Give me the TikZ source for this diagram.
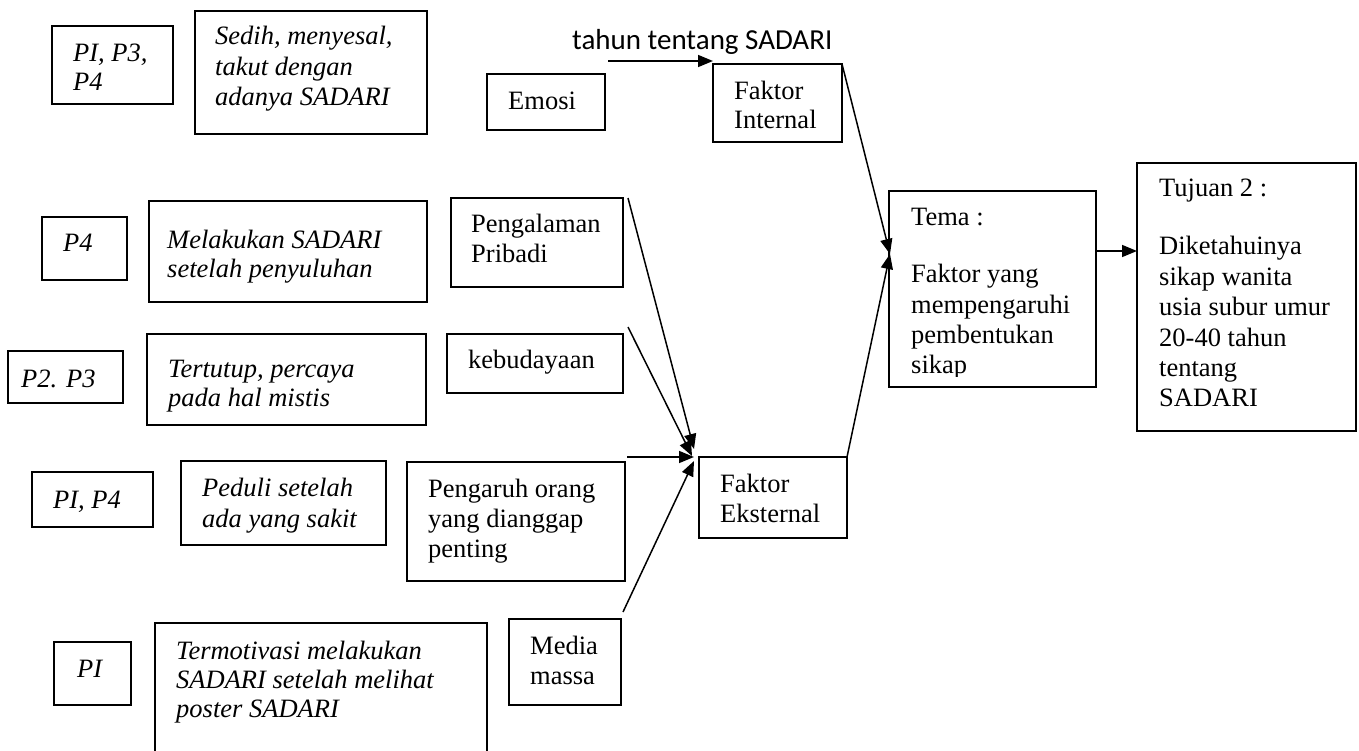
\documentclass[tikz,border=0pt]{standalone}
\usepackage{fontspec}
\setmainfont{Liberation Serif}
\newfontfamily\calibrifont{Carlito}
\usetikzlibrary{arrows.meta,fit}
% left-aligned block whose baseline is the first line's baseline
\newcommand\stk[1]{\begin{tabular}[t]{@{}l@{}}#1\end{tabular}}

\begin{document}
\begin{tikzpicture}[x=1pt,y=-1pt,
  box/.style={draw, line width=1.8pt, inner sep=0pt, outer sep=0pt},
  txt/.style={inner sep=0pt, anchor=base west, font=\fontsize{26.5}{30}\selectfont},
  itx/.style={txt, font=\fontsize{26.5}{30}\selectfont\itshape},
  link/.style={line width=1.5pt, -{Triangle[length=15pt,width=12pt]}}
]
\useasboundingbox (0,0) rectangle (1359,751);

% ---- boxes ----
\node[box, fit={(52,26)(173,104)}] (p134) {};
\node[box, fit={(195,11)(427,134)}] (sedih) {};
\node[box, fit={(487,74)(605,130)}] (emosi) {};
\node[box, fit={(713,64)(842,142)}] (fint) {};
\node[box, fit={(889,191)(1096,387)}] (tema) {};
\node[box, fit={(1137,163)(1356,431)}] (tujuan) {};
\node[box, fit={(42,217)(127,280)}] (p4) {};
\node[box, fit={(149,201)(427,302)}] (melakukan) {};
\node[box, fit={(451,198)(623,287)}] (pengalaman) {};
\node[box, fit={(8,351)(123,403)}] (p23) {};
\node[box, fit={(147,334)(426,425)}] (tertutup) {};
\node[box, fit={(447,334)(623,393)}] (budaya) {};
\node[box, fit={(32,472)(153,527)}] (p14) {};
\node[box, fit={(181,461)(386,545)}] (peduli) {};
\node[box, fit={(407,462)(625,581)}] (pengaruh) {};
\node[box, fit={(699,457)(847,538)}] (feks) {};
\node[box, fit={(54,642)(131,705)}] (p1) {};
\node[box, fit={(155,623)(487,780)}] (motivasi) {};
\node[box, fit={(509,619)(621,705)}] (media) {};

% ---- texts ----
\node[inner sep=0pt, anchor=base west, font=\calibrifont\fontsize{29}{34}\selectfont] (judul) at (572,50) {tahun tentang SADARI};

\node[itx, font=\fontsize{26.5}{28.3}\selectfont\itshape] (p134-t) at (73,62) {\stk{PI, P3,\\P4}};
\node[itx, font=\fontsize{26.5}{30.5}\selectfont\itshape] (sedih-t) at (215,45) {\stk{Sedih, menyesal,\\takut dengan\\adanya SADARI}};
\node[txt] (emosi-t) at (508,110) {Emosi};
\node[txt, font=\fontsize{26.5}{29}\selectfont] (fint-t) at (734,100) {\stk{Faktor\\Internal}};
\begin{scope}
  \clip (889,191) rectangle (1096,376);
  \node[txt] (tema-t) at (911,226) {\stk{Tema :\\[-3pt]\\Faktor yang\\mempengaruhi\\pembentukan\\sikap}};
\end{scope}
\node[txt, font=\fontsize{26.5}{30.4}\selectfont] (tujuan-t) at (1159,197) {\stk{Tujuan 2 :\\[-2.8pt]\\Diketahuinya\\sikap wanita\\usia subur umur\\20-40 tahun\\tentang\\SADARI}};

\node[itx] (p4-t) at (63,252) {P4};
\node[itx, font=\fontsize{26.5}{29}\selectfont\itshape] (melakukan-t) at (167,248) {\stk{Melakukan SADARI\\setelah penyuluhan}};
\node[txt] (pengalaman-t) at (471,233) {\stk{Pengalaman\\Pribadi}};

\node[itx] (p23-t) at (21,387) {P2. P3};
\node[itx, font=\fontsize{26.5}{29}\selectfont\itshape] (tertutup-t) at (168,377) {\stk{Tertutup, percaya\\pada hal mistis}};
\node[txt] (budaya-t) at (468,368) {kebudayaan};

\node[itx] (p14-t) at (53,508) {PI, P4};
\node[itx, font=\fontsize{26.5}{31}\selectfont\itshape] (peduli-t) at (202,496) {\stk{Peduli setelah\\ada yang sakit}};
\node[txt] (pengaruh-t) at (428,497) {\stk{Pengaruh orang\\yang dianggap\\penting}};
\node[txt] (feks-t) at (720,492) {\stk{Faktor\\Eksternal}};

\node[itx] (p1-t) at (77,677) {PI};
\node[itx, font=\fontsize{26.5}{29}\selectfont\itshape] (motivasi-t) at (176,659) {\stk{Termotivasi melakukan\\SADARI setelah melihat\\poster SADARI}};
\node[txt] (media-t) at (530,654) {\stk{Media\\massa}};

% ---- connectors ----
\draw[link] ([shift={(3,-13)}]emosi.north east) -- ([shift={(0,-3)}]fint.north west);
\draw[link] (fint.north east) -- ([shift={(1,63)}]tema.north west);
\draw[link] (feks.north east) -- ([shift={(1,63)}]tema.north west);
\draw[link] ([shift={(0,60)}]tema.north east) -- ([shift={(0,88)}]tujuan.north west);
\draw[link] ([shift={(5,0)}]pengalaman.north east) -- ([shift={(-5,-8)}]feks.north west);
\draw[link] ([shift={(5,-7)}]budaya.north east) -- ([shift={(-7,-1)}]feks.north west);
\draw[link] ([shift={(2,-5)}]pengaruh.north east) -- ([shift={(-5,0)}]feks.north west);
\draw[link] ([shift={(2,-7)}]media.north east) -- ([shift={(-5,4)}]feks.north west);
\end{tikzpicture}
\end{document}
